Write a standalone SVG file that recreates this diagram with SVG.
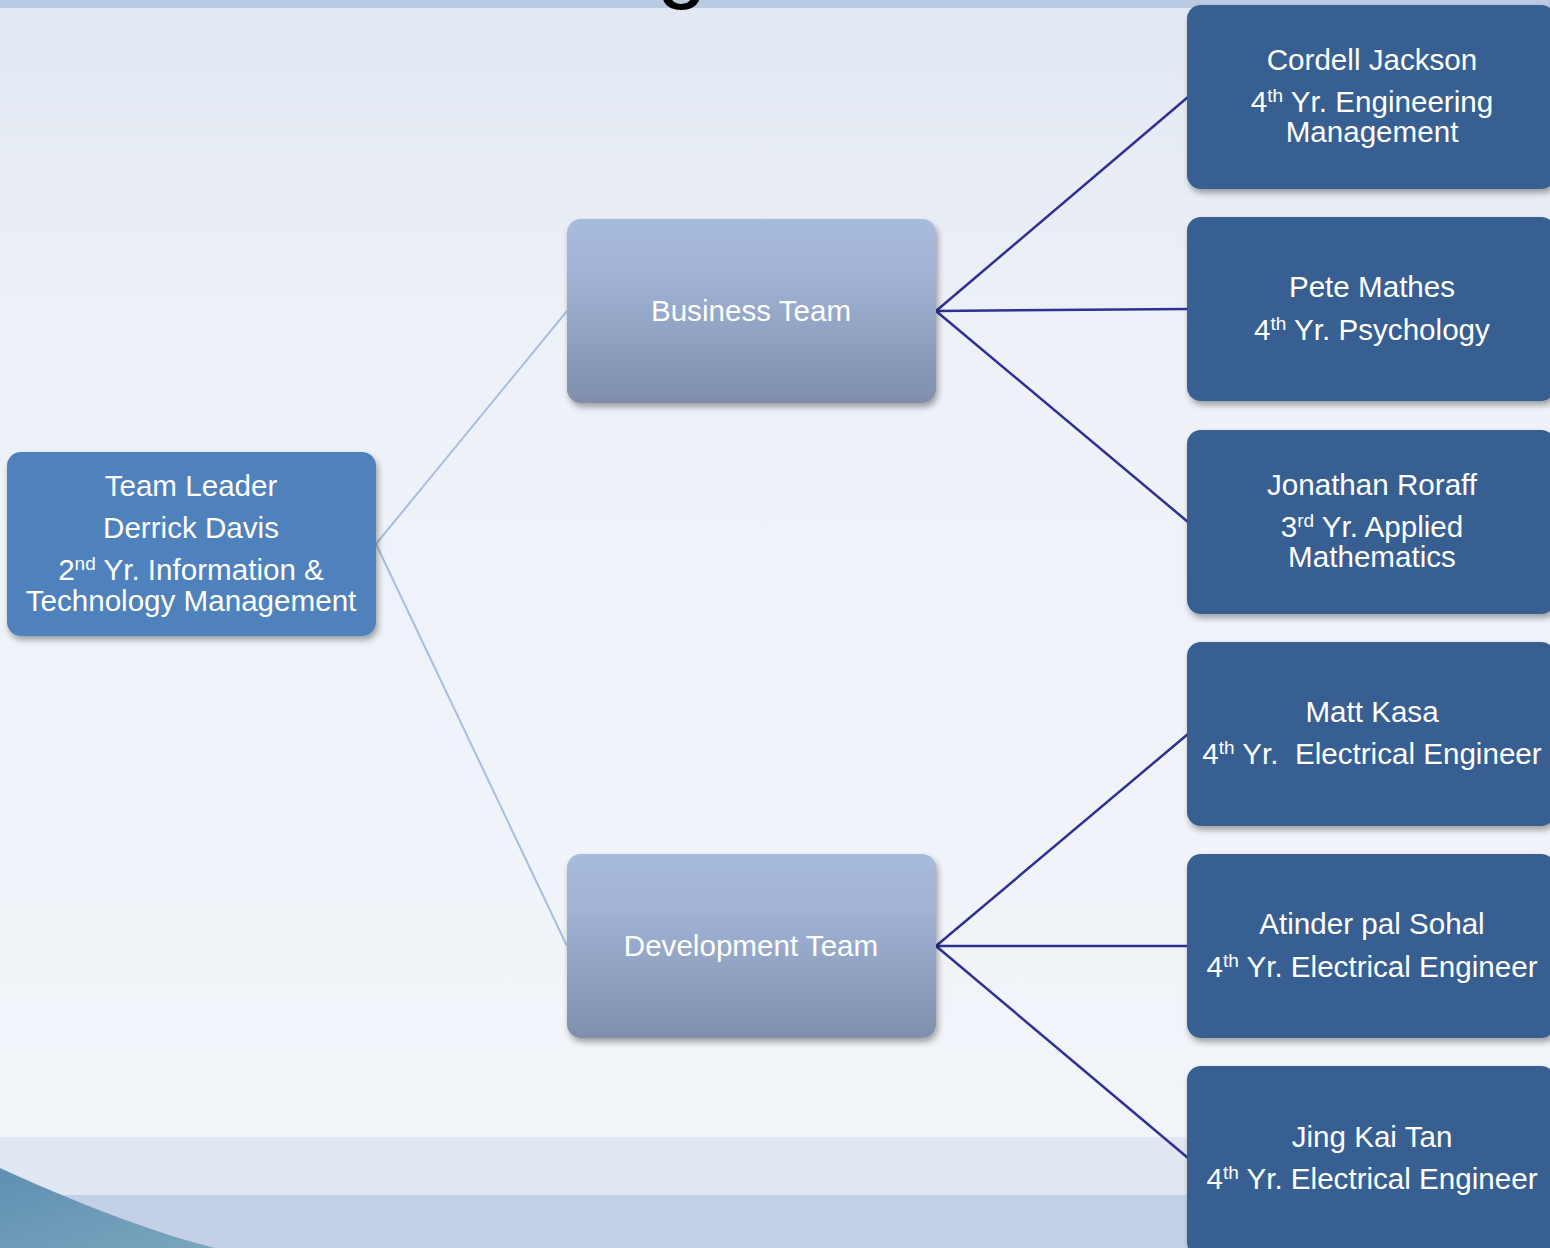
<svg xmlns="http://www.w3.org/2000/svg" width="1550" height="1248" viewBox="0 0 1550 1248">
<style>
text{font-family:"Liberation Sans",Arial,sans-serif;fill:#ffffff;font-size:29.6px;text-anchor:middle}
.sup{font-size:19px}
.lead{fill:#4f81bd}
.team{fill:url(#teamGrad)}
.member{fill:#375f91}
.c1{stroke:#a9bddc;stroke-width:2;fill:none}
.c2{stroke:#2e3190;stroke-width:2.5;fill:none}
</style>
<defs>
<linearGradient id="bg" x1="0" y1="0" x2="0" y2="1">
<stop offset="0" stop-color="#e2e8f3"/>
<stop offset="0.3" stop-color="#eef2f8"/>
<stop offset="1" stop-color="#f2f5fa"/>
</linearGradient>
<linearGradient id="teamGrad" x1="0" y1="0" x2="0" y2="1">
<stop offset="0" stop-color="#a7bbdd"/>
<stop offset="0.3" stop-color="#a1b3d6"/>
<stop offset="1" stop-color="#7f8fab"/>
</linearGradient>
<linearGradient id="swoosh" x1="0" y1="0" x2="1" y2="1">
<stop offset="0" stop-color="#5f8fb2"/>
<stop offset="1" stop-color="#7aa6bd"/>
</linearGradient>
<filter id="sh" x="-10%" y="-10%" width="125%" height="130%">
<feDropShadow dx="2" dy="4" stdDeviation="3" flood-color="#000" flood-opacity="0.35"/>
</filter>
</defs>
<rect x="0" y="0" width="1550" height="1248" fill="url(#bg)"/>
<rect x="0" y="0" width="1550" height="8" fill="#b9cae3"/>
<rect x="0" y="1137" width="1550" height="58" fill="#e0e7f2"/>
<rect x="0" y="1195" width="1550" height="53" fill="#c3d0e5"/>
<path d="M0,1168 C70,1200 150,1232 215,1248 L0,1248 Z" fill="url(#swoosh)"/>
<text x="682" y="-9" style="fill:#000;font-size:90px">g</text>

<g id="connectors">
<line class="c1" x1="376" y1="544" x2="567" y2="311"/>
<line class="c1" x1="376" y1="544" x2="567" y2="946"/>
<line class="c2" x1="936" y1="311" x2="1188" y2="97"/>
<line class="c2" x1="936" y1="311" x2="1188" y2="309"/>
<line class="c2" x1="936" y1="311" x2="1188" y2="522"/>
<line class="c2" x1="936" y1="946" x2="1188" y2="734"/>
<line class="c2" x1="936" y1="946" x2="1188" y2="946"/>
<line class="c2" x1="936" y1="946" x2="1188" y2="1158"/>
</g>

<g id="team-leader">
<rect class="lead" x="7" y="452" width="369" height="184" rx="14" filter="url(#sh)"/>
<text x="191" y="496">Team Leader</text>
<text x="191" y="538">Derrick Davis</text>
<text x="191" y="580">2<tspan class="sup" dy="-10">nd</tspan><tspan dy="10"> Yr. Information &amp;</tspan></text>
<text x="191" y="611">Technology Management</text>
</g>

<g id="business-team">
<rect class="team" x="567" y="219" width="369" height="184" rx="14" filter="url(#sh)"/>
<text x="751" y="321">Business Team</text>
</g>

<g id="development-team">
<rect class="team" x="567" y="854" width="369" height="184" rx="14" filter="url(#sh)"/>
<text x="751" y="956">Development Team</text>
</g>

<g id="cordell-jackson">
<rect class="member" x="1187" y="5" width="368" height="184" rx="14" filter="url(#sh)"/>
<text x="1372" y="70">Cordell Jackson</text>
<text x="1372" y="112">4<tspan class="sup" dy="-10">th</tspan><tspan dy="10"> Yr. Engineering</tspan></text>
<text x="1372" y="142">Management</text>
</g>

<g id="pete-mathes">
<rect class="member" x="1187" y="217" width="368" height="184" rx="14" filter="url(#sh)"/>
<text x="1372" y="297">Pete Mathes</text>
<text x="1372" y="340">4<tspan class="sup" dy="-10">th</tspan><tspan dy="10"> Yr. Psychology</tspan></text>
</g>

<g id="jonathan-roraff">
<rect class="member" x="1187" y="430" width="368" height="184" rx="14" filter="url(#sh)"/>
<text x="1372" y="495">Jonathan Roraff</text>
<text x="1372" y="537">3<tspan class="sup" dy="-10">rd</tspan><tspan dy="10"> Yr. Applied</tspan></text>
<text x="1372" y="567">Mathematics</text>
</g>

<g id="matt-kasa">
<rect class="member" x="1187" y="642" width="368" height="184" rx="14" filter="url(#sh)"/>
<text x="1372" y="722">Matt Kasa</text>
<text x="1372" y="764" xml:space="preserve">4<tspan class="sup" dy="-10">th</tspan><tspan dy="10"> Yr.  Electrical Engineer</tspan></text>
</g>

<g id="atinder-pal-sohal">
<rect class="member" x="1187" y="854" width="368" height="184" rx="14" filter="url(#sh)"/>
<text x="1372" y="934">Atinder pal Sohal</text>
<text x="1372" y="977">4<tspan class="sup" dy="-10">th</tspan><tspan dy="10"> Yr. Electrical Engineer</tspan></text>
</g>

<g id="jing-kai-tan">
<rect class="member" x="1187" y="1066" width="368" height="190" rx="14" filter="url(#sh)"/>
<text x="1372" y="1147">Jing Kai Tan</text>
<text x="1372" y="1189">4<tspan class="sup" dy="-10">th</tspan><tspan dy="10"> Yr. Electrical Engineer</tspan></text>
</g>
</svg>
